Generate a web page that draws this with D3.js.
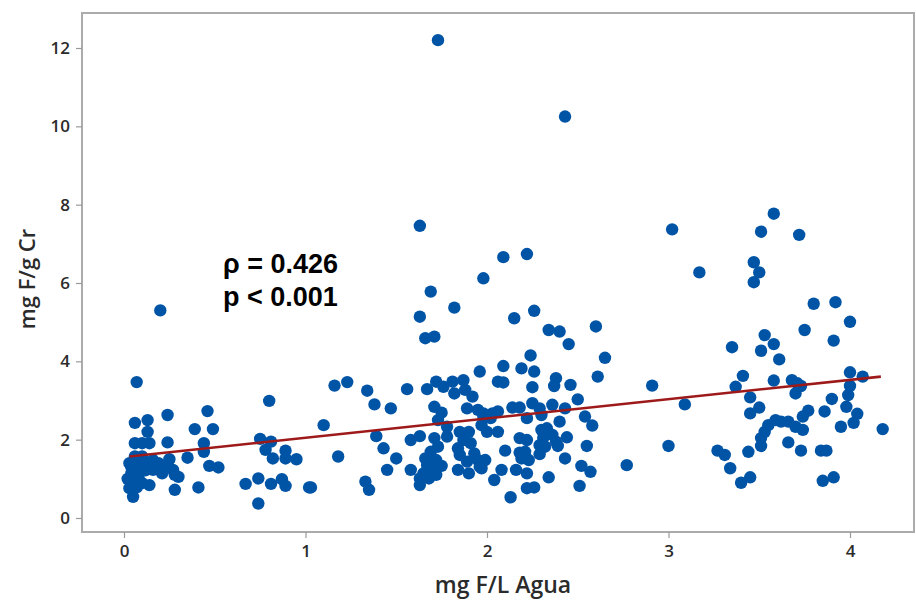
<!DOCTYPE html>
<html>
<head>
<meta charset="utf-8">
<script src="https://cdn.jsdelivr.net/npm/d3@7"></script>
<style>
  html, body { margin: 0; padding: 0; background: #fff; }
  svg { display: block; }
</style>
</head>
<body>
<svg id="chart" width="916" height="601"></svg>
<script>
// ---- data ----
const xValues = [
  0.07,0.80,0.24,0.46,0.06,0.13,0.13,0.39,0.49,0.24,0.06,0.10,0.14,0.44,0.75,0.81,0.44,0.35,0.25,0.47,
  0.52,0.03,0.06,0.10,0.04,0.08,0.12,0.16,0.19,0.23,0.27,0.28,0.30,0.21,0.16,0.08,0.05,0.03,0.06,0.10,
  0.14,0.05,0.28,0.41,0.78,0.82,0.89,0.89,0.95,0.67,0.74,0.81,0.87,0.89,0.74,1.02,0.04,0.12,0.07,0.02,
  1.16,1.23,1.34,1.38,1.47,1.56,1.67,1.72,1.76,1.81,1.82,1.87,1.88,1.92,1.96,2.06,1.71,1.75,1.73,1.78,
  1.89,1.95,1.98,2.03,1.97,2.00,2.06,1.10,1.39,1.43,1.18,1.50,1.45,1.03,1.33,1.35,1.58,1.63,1.58,1.71,
  1.73,1.69,1.66,1.67,1.72,1.75,1.70,1.65,1.63,1.63,1.68,1.72,1.78,1.85,1.90,1.87,1.84,1.91,1.85,1.93,
  1.89,1.84,1.90,1.95,1.99,1.97,2.04,
  2.09,2.19,2.26,2.24,2.09,2.25,2.38,2.37,2.46,2.61,2.65,2.50,2.91,1.98,2.02,2.06,2.14,2.18,2.25,2.29,
  2.30,2.36,2.43,2.22,2.40,2.54,2.58,2.30,2.33,2.36,2.31,2.29,2.32,2.38,2.44,2.39,2.18,2.22,2.10,2.18,
  2.21,2.23,2.19,2.29,1.96,2.08,2.16,2.22,2.55,2.43,2.52,2.57,2.34,2.22,2.26,2.13,2.51,2.77,3.00,
  3.61,3.41,3.37,3.58,3.68,3.71,3.73,3.70,4.00,4.07,4.00,3.99,3.98,3.09,3.45,3.50,3.45,3.90,3.86,3.77,
  3.74,4.04,4.02,3.95,4.18,3.59,3.55,3.53,3.51,3.51,3.62,3.66,3.70,3.74,3.66,3.73,3.27,3.31,3.44,3.34,
  3.40,3.45,3.84,3.87,3.85,3.91,
  1.63,3.02,2.09,2.22,1.98,1.69,1.63,1.82,1.66,1.71,2.15,2.26,2.34,2.40,2.45,2.60,
  3.58,3.51,3.72,3.17,3.47,3.50,3.47,3.80,3.92,4.00,3.75,3.91,3.53,3.58,3.51,3.35,
  1.73,2.43,0.20
];
const yValues = [
  3.47,2.99,2.63,2.73,2.43,2.50,2.20,2.27,2.27,1.93,1.91,1.91,1.91,1.91,2.02,1.95,1.69,1.54,1.50,1.33,
  1.29,1.40,1.57,1.57,1.14,1.31,1.40,1.48,1.40,1.31,1.23,1.10,1.05,1.14,1.23,1.05,0.97,0.76,0.84,0.89,
  0.84,0.54,0.72,0.78,1.74,1.52,1.72,1.52,1.50,0.87,1.01,0.87,0.99,0.82,0.37,0.78,1.30,1.22,0.78,1.00,
  3.38,3.47,3.25,2.90,2.80,3.29,3.29,3.48,3.35,3.48,3.18,3.52,3.27,3.10,3.74,3.48,2.84,2.69,2.50,2.33,
  2.80,2.76,2.59,2.67,2.37,2.20,2.20,2.37,2.09,1.78,1.57,1.52,1.23,0.78,0.93,0.72,1.99,2.09,1.23,2.04,
  1.82,1.69,1.52,1.35,1.48,1.33,1.23,1.14,1.01,0.84,1.01,1.10,2.08,2.20,2.20,1.99,1.78,1.91,1.61,1.65,
  1.44,1.23,1.14,1.48,1.48,1.27,0.97,
  3.88,3.82,3.74,4.15,3.46,3.34,3.57,3.37,3.40,3.61,4.09,3.03,3.38,2.67,2.55,2.72,2.82,2.82,2.93,2.80,
  2.63,2.89,2.80,2.55,2.46,2.59,2.36,2.25,2.29,2.12,2.04,1.86,1.82,1.95,2.06,1.84,2.04,1.99,1.72,1.67,
  1.69,1.48,1.52,1.63,1.31,1.23,1.23,1.14,1.84,1.52,1.33,1.18,1.04,0.76,0.78,0.53,0.82,1.35,1.84,
  4.05,3.63,3.35,3.51,3.52,3.44,3.37,3.18,3.72,3.61,3.37,3.14,2.84,2.90,3.08,2.82,2.67,3.04,2.72,2.74,
  2.59,2.66,2.43,2.33,2.27,2.50,2.37,2.20,2.04,1.84,2.46,2.46,2.33,2.25,1.93,1.72,1.72,1.61,1.69,1.27,
  0.90,1.04,1.72,1.72,0.95,1.04,
  7.46,7.37,6.66,6.74,6.12,5.78,5.14,5.37,4.59,4.63,5.10,5.29,4.80,4.76,4.44,4.89,
  7.77,7.31,7.23,6.27,6.53,6.27,6.02,5.47,5.51,5.01,4.80,4.53,4.67,4.44,4.27,4.36,
  12.2,10.25,5.30
];
const fitX = [0.03, 4.17];
const fitY = [1.57, 3.61];
const xTicks = [0, 1, 2, 3, 4];
const yTicks = [0, 2, 4, 6, 8, 10, 12];
const xTitle = "mg F/L Agua";
const yTitle = "mg F/g Cr";
const annotation = ["ρ = 0.426", "p < 0.001"];

// ---- layout ----
const svg = d3.select("#chart");
const frame = { left: 82, right: 914, top: 13, bottom: 532 };
const x = d3.scaleLinear().domain([0, 4]).range([124, 850]);
const y = d3.scaleLinear().domain([0, 12]).range([518, 48]);

const points = xValues.map((v, i) => ({ x: v, y: yValues[i] }));

// frame
svg.append("rect")
  .attr("x", frame.left).attr("y", frame.top)
  .attr("width", frame.right - frame.left).attr("height", frame.bottom - frame.top)
  .attr("fill", "none").attr("stroke", "#ababab").attr("stroke-width", 2);

// axes
const tickFont = "'Open Sans', 'Noto Sans', sans-serif";
const xAxis = d3.axisBottom(x).tickValues(xTicks).tickSize(6).tickPadding(7).tickFormat(d3.format("d"));
const gx = svg.append("g").attr("transform", `translate(0,${frame.bottom})`).call(xAxis);
gx.select(".domain").remove();
gx.selectAll("line").attr("stroke", "#9a9a9a").attr("stroke-width", 1.2);
gx.selectAll("text").attr("font-family", tickFont).attr("font-size", 17).attr("font-weight", 600).attr("fill", "#2b2b2b");

const yAxis = d3.axisLeft(y).tickValues(yTicks).tickSize(6).tickPadding(6).tickFormat(d3.format("d"));
const gy = svg.append("g").attr("transform", `translate(${frame.left},0)`).call(yAxis);
gy.select(".domain").remove();
gy.selectAll("line").attr("stroke", "#9a9a9a").attr("stroke-width", 1.2);
gy.selectAll("text").attr("font-family", tickFont).attr("font-size", 17).attr("font-weight", 600).attr("fill", "#2b2b2b");

// titles
svg.append("text")
  .attr("x", 503).attr("y", 593)
  .attr("text-anchor", "middle")
  .attr("font-family", tickFont).attr("font-size", 23).attr("font-weight", 600).attr("fill", "#2b2b2b")
  .text(xTitle);
svg.append("text")
  .attr("transform", "translate(35,279) rotate(-90)")
  .attr("text-anchor", "middle")
  .attr("font-family", tickFont).attr("font-size", 22).attr("font-weight", 600).attr("fill", "#2b2b2b")
  .text(yTitle);

// points
svg.append("g").selectAll("circle").data(points).join("circle")
  .attr("cx", d => x(d.x)).attr("cy", d => y(d.y)).attr("r", 6.2)
  .attr("fill", "#0054a6");

// fit line
svg.append("line")
  .attr("x1", x(fitX[0])).attr("y1", y(fitY[0]))
  .attr("x2", x(fitX[1])).attr("y2", y(fitY[1]))
  .attr("stroke", "#9e1a1a").attr("stroke-width", 2.6);

// annotation
const ann = svg.append("text")
  .attr("font-family", "'Liberation Sans', Arial, sans-serif")
  .attr("font-size", 27).attr("font-weight", "bold").attr("fill", "#000");
annotation.forEach((t, i) => {
  ann.append("tspan").attr("x", 223).attr("y", 273 + i * 33).text(t);
});
</script>
</body>
</html>
